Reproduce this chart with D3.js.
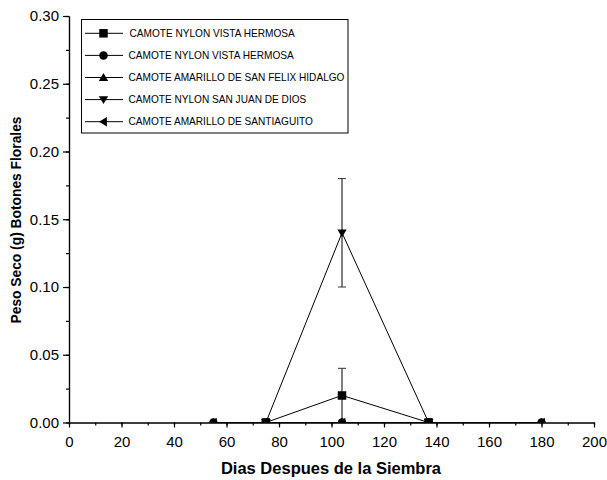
<!DOCTYPE html>
<html>
<head>
<meta charset="utf-8">
<script src="https://cdn.jsdelivr.net/npm/d3@7"></script>
<style>
  body { margin: 0; background: #fff; }
  svg { display: block; font-family: "Liberation Sans", Arial, sans-serif; }
</style>
</head>
<body>
<div id="chart"></div>
<script>
const days = [55, 75, 104, 137, 180];
const seriesNames = [
  "CAMOTE NYLON VISTA HERMOSA",
  "CAMOTE NYLON VISTA HERMOSA",
  "CAMOTE AMARILLO DE SAN FELIX HIDALGO",
  "CAMOTE NYLON SAN JUAN DE DIOS",
  "CAMOTE AMARILLO DE SANTIAGUITO"
];
const seriesSymbols = ["square", "circle", "triUp", "triDown", "triLeft"];
const seriesValues = [
  [null, 0, 0.02, 0, null],
  [0, 0, 0, 0, 0],
  [0, 0, 0, 0, 0],
  [null, 0, 0.14, 0, null],
  [0, 0, 0, 0, 0]
];
const seriesErrors = [
  [0, 0, 0.02, 0, 0],
  [0, 0, 0, 0, 0],
  [0, 0, 0, 0, 0],
  [0, 0, 0.04, 0, 0],
  [0, 0, 0, 0, 0]
];
const xTicks = [0, 20, 40, 60, 80, 100, 120, 140, 160, 180, 200];
const yTicks = [0.00, 0.05, 0.10, 0.15, 0.20, 0.25, 0.30];
const xTitle = "Dias Despues de la Siembra";
const yTitle = "Peso Seco (g) Botones Florales";

const W = 607, H = 480;
const margin = { top: 16, right: 13, bottom: 57.5, left: 69 };
const width = W - margin.left - margin.right,
  height = H - margin.top - margin.bottom;

const svg = d3.select("#chart").append("svg")
  .attr("width", W).attr("height", H);
const g = svg.append("g")
  .attr("transform", `translate(${margin.left},${margin.top})`);

const x = d3.scaleLinear().domain([0, 200]).range([0, width]);
const y = d3.scaleLinear().domain([0, 0.30]).range([height, 0]);

// clip so markers sitting on zero are cut by the axis
svg.append("defs").append("clipPath").attr("id", "plotclip")
  .append("rect").attr("x", 0).attr("y", -10).attr("width", width + 10).attr("height", height + 10);

// symbol path generator (size in px across)
function symbolPath(type, s) {
  const h = s / 2;
  switch (type) {
    case "square": return `M${-h},${-h}H${h}V${h}H${-h}Z`;
    case "circle": return `M${h},0A${h},${h} 0 1,1 ${-h},0A${h},${h} 0 1,1 ${h},0Z`;
    case "triUp": return `M0,${-h * 1.05}L${h * 1.1},${h * 0.8}L${-h * 1.1},${h * 0.8}Z`;
    case "triDown": return `M0,${h * 1.05}L${h * 1.1},${-h * 0.8}L${-h * 1.1},${-h * 0.8}Z`;
    case "triLeft": return `M${-h * 1.05},0L${h * 0.8},${-h * 1.1}L${h * 0.8},${h * 1.1}Z`;
  }
}

// axes
const xAxisMinor = d3.axisBottom(x).tickValues(d3.range(0, 201, 10)).tickSize(3).tickFormat("").tickSizeOuter(0);
const xAxis = d3.axisBottom(x).tickValues(xTicks).tickSize(5).tickPadding(9).tickSizeOuter(0).tickFormat(d3.format("d"));
const yAxisMinor = d3.axisLeft(y).tickValues(d3.range(0, 0.3001, 0.025)).tickSize(3).tickFormat("").tickSizeOuter(0);
const yAxis = d3.axisLeft(y).tickValues(yTicks).tickSize(6).tickPadding(4).tickSizeOuter(0).tickFormat(d3.format(".2f"));

g.append("g").attr("transform", `translate(0,${height})`).call(xAxisMinor);
const gx = g.append("g").attr("transform", `translate(0,${height})`).call(xAxis);
g.append("g").call(yAxisMinor);
const gy = g.append("g").call(yAxis);

[gx, gy].forEach(a => {
  a.selectAll("text").attr("font-size", 15).attr("fill", "#000")
    .attr("font-family", "'Liberation Sans', Arial, sans-serif");
});
g.selectAll(".domain, .tick line").attr("stroke", "#000").attr("stroke-width", 1.2);

// titles
svg.append("text")
  .attr("x", margin.left + width / 2 - 0.5).attr("y", 474)
  .attr("text-anchor", "middle").attr("font-size", 16.5).attr("font-weight", "bold")
  .text(xTitle);
svg.append("text")
  .attr("transform", `translate(21,220) rotate(-90)`)
  .attr("text-anchor", "middle").attr("font-size", 13.8).attr("font-weight", "bold")
  .text(yTitle);

// lines, error bars and markers
const plot = g.append("g").attr("clip-path", "url(#plotclip)");
const line = d3.line().x(d => x(d.day)).y(d => y(d.v));

seriesValues.forEach((vals, i) => {
  const pts = days.map((d, j) => ({ day: d, v: vals[j], e: seriesErrors[i][j] }))
    .filter(p => p.v !== null);
  plot.append("path").datum(pts).attr("d", line)
    .attr("fill", "none").attr("stroke", "#000").attr("stroke-width", 1);

  const eb = plot.append("g");
  pts.filter(p => p.e > 0).forEach(p => {
    const cx = x(p.day);
    eb.append("line").attr("x1", cx).attr("x2", cx)
      .attr("y1", y(p.v - p.e)).attr("y2", y(p.v + p.e))
      .attr("stroke", "#000").attr("stroke-width", 1);
    [p.v - p.e, p.v + p.e].forEach(t => {
      if (t <= 0) return;
      eb.append("line").attr("x1", cx - 4).attr("x2", cx + 4)
        .attr("y1", y(t)).attr("y2", y(t))
        .attr("stroke", "#333").attr("stroke-width", 1);
    });
  });

  plot.append("g").selectAll("path").data(pts).join("path")
    .attr("transform", p => `translate(${x(p.day)},${y(p.v)})`)
    .attr("d", symbolPath(seriesSymbols[i], 8.5))
    .attr("fill", "#000");
});

// legend
const leg = svg.append("g");
leg.append("rect").attr("x", 81.5).attr("y", 19.5).attr("width", 266.5).attr("height", 113.5)
  .attr("fill", "#fff").attr("stroke", "#000").attr("stroke-width", 1);
seriesNames.forEach((name, i) => {
  const ly = 33.3 + i * 22.1;
  leg.append("line").attr("x1", 85).attr("x2", 123).attr("y1", ly).attr("y2", ly)
    .attr("stroke", "#000").attr("stroke-width", 1);
  leg.append("path").attr("transform", `translate(103.5,${ly})`)
    .attr("d", symbolPath(seriesSymbols[i], 8.5)).attr("fill", "#000");
  leg.append("text").attr("x", i === 0 ? 129.5 : 128.5).attr("y", ly + 3.6)
    .attr("font-size", 10.1).text(name);
});
</script>
</body>
</html>
